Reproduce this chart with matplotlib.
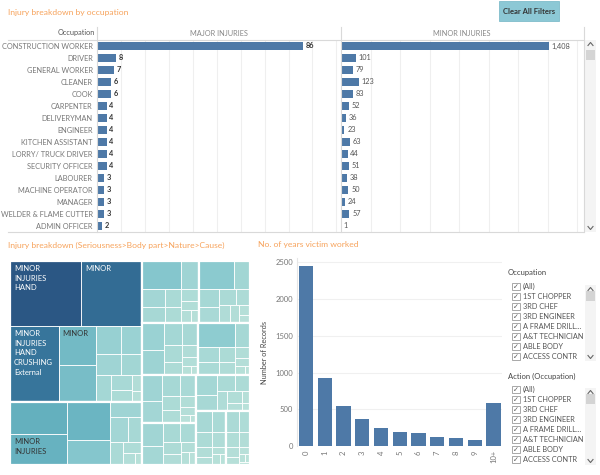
import numpy as np
import matplotlib
matplotlib.use('Agg')
import matplotlib.pyplot as plt
from matplotlib import font_manager
from matplotlib.patches import Rectangle
from matplotlib.colors import LinearSegmentedColormap

# Tableau's UI font is narrow; use a narrow face if there is one
names = {f.name for f in font_manager.fontManager.ttflist}
if 'Liberation Sans Narrow' in names:
    BASE, K = 'Liberation Sans Narrow', 1.0
else:
    BASE, K = 'Lato', 0.85
plt.rcParams['font.family'] = [BASE, 'DejaVu Sans']

# ---- data ----
occupations = ['CONSTRUCTION WORKER', 'DRIVER', 'GENERAL WORKER', 'CLEANER', 'COOK',
               'CARPENTER', 'DELIVERYMAN', 'ENGINEER', 'KITCHEN ASSISTANT',
               'LORRY/ TRUCK DRIVER', 'SECURITY OFFICER', 'LABOURER',
               'MACHINE OPERATOR', 'MANAGER', 'WELDER & FLAME CUTTER', 'ADMIN OFFICER']
major = [86, 8, 7, 6, 6, 4, 4, 4, 4, 4, 4, 3, 3, 3, 3, 2]
minor = [1408, 101, 79, 123, 83, 52, 36, 23, 63, 44, 51, 38, 50, 24, 57, 1]

years = ['0', '1', '2', '3', '4', '5', '6', '7', '8', '9', '10+']
records = [2450, 930, 550, 370, 240, 190, 175, 128, 105, 86, 590]

# treemap: body-part groups, each a list of record counts
tm_groups = [
    [4750, 4040, 3760, 1520, 1400, 700, 620, 520, 460, 400, 330, 250, 160, 110],
    [1900, 1820, 1700, 1100, 520, 430, 360, 300, 220, 150, 90],
    [1100, 520, 430, 360, 300, 260, 220, 180, 130, 100],
    [980, 450, 380, 320, 280, 240, 200, 160, 110, 80],
    [620, 560, 420, 360, 300, 240, 200, 150, 90, 60],
    [900, 380, 330, 290, 250, 210, 170, 130, 90, 50],
    [520, 440, 380, 320, 270, 230, 180, 130, 80, 50],
    [480, 400, 340, 290, 240, 200, 160, 110, 80],
    [420, 350, 300, 250, 210, 170, 130, 100, 70],
    [360, 300, 250, 210, 170, 140, 110, 90, 70],
    [280, 230, 190, 160, 130, 100, 80, 60, 40, 30],
]
tm_labels = [
    ['MINOR\nINJURIES\nHAND', 'MINOR', 'MINOR\nINJURIES\nHAND\nCRUSHING\nExternal', 'MINOR'],
    ['', 'MINOR\nINJURIES'],
]

filter_items = ['(All)', '1ST CHOPPER', '3RD CHEF', '3RD ENGINEER', 'A FRAME DRILL...',
                'A&T TECHNICIAN', 'ABLE BODY', 'ACCESS CONTR']

BLUE = '#4e79a7'
ORANGE = '#f7a35c'
W, H = 600, 475


def px_rect(x0, y0, x1, y1):
    return [x0 / W, 1 - y1 / H, (x1 - x0) / W, (y1 - y0) / H]


def worst(row, short):
    s = sum(row)
    return max(max(short * short * r / (s * s), s * s / (short * short * r)) for r in row)


def squarify(values, x, y, w, h):
    total = float(sum(values))
    vals = [v * w * h / total for v in values]
    rects = []
    while vals:
        short = min(w, h)
        row = [vals[0]]
        i = 1
        while i < len(vals) and worst(row + [vals[i]], short) <= worst(row, short):
            row.append(vals[i])
            i += 1
        s = sum(row)
        if w >= h:
            cw = s / h
            yy = y
            for v in row:
                rects.append((x, yy, cw, v / cw))
                yy += v / cw
            x += cw
            w -= cw
        else:
            rh = s / w
            xx = x
            for v in row:
                rects.append((xx, y, v / rh, rh))
                xx += v / rh
            y += rh
            h -= rh
        vals = vals[len(row):]
    return rects


fig = plt.figure(figsize=(6, 4.75), dpi=100)

# ---- top: injury breakdown by occupation ----
ypos = np.arange(len(occupations))
ax_maj = fig.add_axes(px_rect(97, 40, 340, 232))
ax_min = fig.add_axes(px_rect(341, 40, 583, 232))
for ax, vals, xmax, step, lab_col, lab_w in [(ax_maj, major, 101.5, 10, '#333333', 'bold'),
                                             (ax_min, minor, 1638, 200, '#555555', 'normal')]:
    bars = ax.barh(ypos, vals, height=0.72, color=BLUE)
    ax.set_xlim(0, xmax)
    ax.set_ylim(len(occupations) - 0.5, -0.5)
    ax.set_xticks(np.arange(step, xmax, step))
    ax.grid(axis='x', color='#efefef', lw=0.8)
    ax.set_axisbelow(True)
    ax.tick_params(length=0, labelbottom=False)
    for s in ax.spines.values():
        s.set_visible(False)
    ax.bar_label(bars, labels=[f'{v:,}' for v in vals], padding=2,
                 fontsize=6.3 * K, color=lab_col, fontweight=lab_w)
ax_maj.set_yticks(ypos, occupations, fontsize=6.3 * K, color='#777777')
ax_maj.tick_params(axis='y', pad=3)
ax_min.set_yticks([])

# ---- bottom middle: years worked ----
ax_yr = fig.add_axes(px_rect(297, 258, 502, 446))
xpos = np.arange(len(years))
ax_yr.bar(xpos, records, width=0.76, color=BLUE)
ax_yr.set_xlim(-0.48, 10.45)
ax_yr.set_ylim(0, 2560)
ax_yr.set_yticks(np.arange(0, 2501, 500))
ax_yr.set_xticks(xpos, years, rotation=90)
ax_yr.tick_params(length=0, labelsize=6.5 * K, labelcolor='#777777', pad=3)
ax_yr.grid(axis='y', color='#f0f0f0', lw=0.8)
ax_yr.set_axisbelow(True)
for k, s in ax_yr.spines.items():
    s.set_visible(k == 'left')
ax_yr.spines['left'].set_color('#e6e6e6')
ax_yr.set_ylabel('Number of Records', fontsize=6.3 * K, color='#444444', labelpad=5)

# ---- bottom left: treemap ----
ax_tm = fig.add_axes(px_rect(10, 261, 250, 465))
ax_tm.set_xlim(0, 240)
ax_tm.set_ylim(204, 0)
ax_tm.axis('off')
cmap = LinearSegmentedColormap.from_list('blueteal', [(0, '#bfe4da'), (0.3, '#8ccbd0'),
                                                      (0.55, '#5aa9ba'), (0.75, '#3d86a8'),
                                                      (1, '#2b5784')])
vmax = max(max(g) for g in tm_groups)
group_rects = squarify([sum(g) for g in tm_groups], 0, 0, 240, 204)
for gi, (g, (gx, gy, gw, gh)) in enumerate(zip(tm_groups, group_rects)):
    labels = tm_labels[gi] if gi < len(tm_labels) else []
    for j, (v, (x, y, w, h)) in enumerate(zip(g, squarify(g, gx, gy, gw, gh))):
        t = (v / vmax) ** 0.75
        ax_tm.add_patch(Rectangle((x, y), w, h, facecolor=cmap(t), edgecolor='white', lw=0.6))
        if j < len(labels) and labels[j]:
            ax_tm.text(x + 4, y + 4, labels[j], va='top', ha='left', fontsize=6.5 * K,
                       color='white' if t > 0.6 else '#333333', linespacing=1.45, clip_on=True)
    ax_tm.add_patch(Rectangle((gx, gy), gw, gh, fill=False, edgecolor='white', lw=1.6))

# ---- overlay: titles, frame lines, button, filters ----
ax_bg = fig.add_axes([0, 0, 1, 1], zorder=5)
ax_bg.set_xlim(0, W)
ax_bg.set_ylim(H, 0)
ax_bg.axis('off')

ax_bg.text(8, 12, 'Injury breakdown by occupation', fontsize=7.2 * K, color=ORANGE, va='center')
ax_bg.text(8, 245, 'Injury breakdown (Seriousness>Body part>Nature>Cause)', fontsize=7.2 * K,
           color=ORANGE, va='center')
ax_bg.text(258, 245, 'No. of years victim worked', fontsize=7.2 * K, color=ORANGE, va='center')

ax_bg.add_patch(Rectangle((499, 1), 60, 20, facecolor='#8cc8d5', edgecolor='#7fbccb', lw=0.6))
ax_bg.text(529, 11.5, 'Clear All Filters', fontsize=6.5 * K, fontweight='bold', color='#333333',
           ha='center', va='center')

ax_bg.text(95, 33, 'Occupation', fontsize=6.3 * K, color='#555555', ha='right', va='center')
ax_bg.text(218.5, 33, 'MAJOR INJURIES', fontsize=6.3 * K, color='#888888', ha='center', va='center')
ax_bg.text(462, 33, 'MINOR INJURIES', fontsize=6.3 * K, color='#888888', ha='center', va='center')
line_kw = dict(color='#d9d9d9', lw=0.8)
ax_bg.plot([8, 583], [40, 40], **line_kw)
ax_bg.plot([8, 583], [232, 232], **line_kw)
for xv in (97, 340.5, 583.5):
    ax_bg.plot([xv, xv], [27, 232], **line_kw)


def chevron(x, y, up):
    d = -1.5 if up else 1.5
    ax_bg.plot([x - 2.5, x, x + 2.5], [y - d, y + d, y - d], color='#666666', lw=0.8)


def scrollbar(y0, y1, t0, t1):
    ax_bg.add_patch(Rectangle((585, y0), 11, y1 - y0, facecolor='#f4f4f4', edgecolor='none'))
    ax_bg.add_patch(Rectangle((586, t0), 9, t1 - t0, facecolor='#d4d4d4', edgecolor='none'))
    chevron(590.5, y0 + 4, True)
    chevron(590.5, y1 - 4, False)


scrollbar(40, 232, 50, 60)

for title, ty, box in [('Occupation', 272, (280, 362)), ('Action (Occupation)', 376, (383, 466))]:
    ax_bg.text(508, ty, title, fontsize=6.5 * K, color='#444444', va='center')
    ax_l = fig.add_axes(px_rect(503, box[0], 584, box[1]), zorder=6)
    ax_l.set_xlim(503, 584)
    ax_l.set_ylim(box[1], box[0])
    ax_l.axis('off')
    for i, item in enumerate(filter_items):
        yy = box[0] + 6.7 + 10 * i
        ax_l.add_patch(Rectangle((512, yy - 3.8), 7.6, 7.6, facecolor='white',
                                 edgecolor='#9a9a9a', lw=0.6, clip_on=True))
        ax_l.text(515.8, yy + 0.3, '\u2713', fontsize=5, color='#555555', ha='center',
                  va='center', family='DejaVu Sans', clip_on=True)
        ax_l.text(523, yy, item, fontsize=6.3 * K, color='#555555', va='center', clip_on=True)
    scrollbar(box[0] + 5, box[1] - 1, box[0] + 11, box[0] + 21)

fig.savefig('out.png', dpi=100)
